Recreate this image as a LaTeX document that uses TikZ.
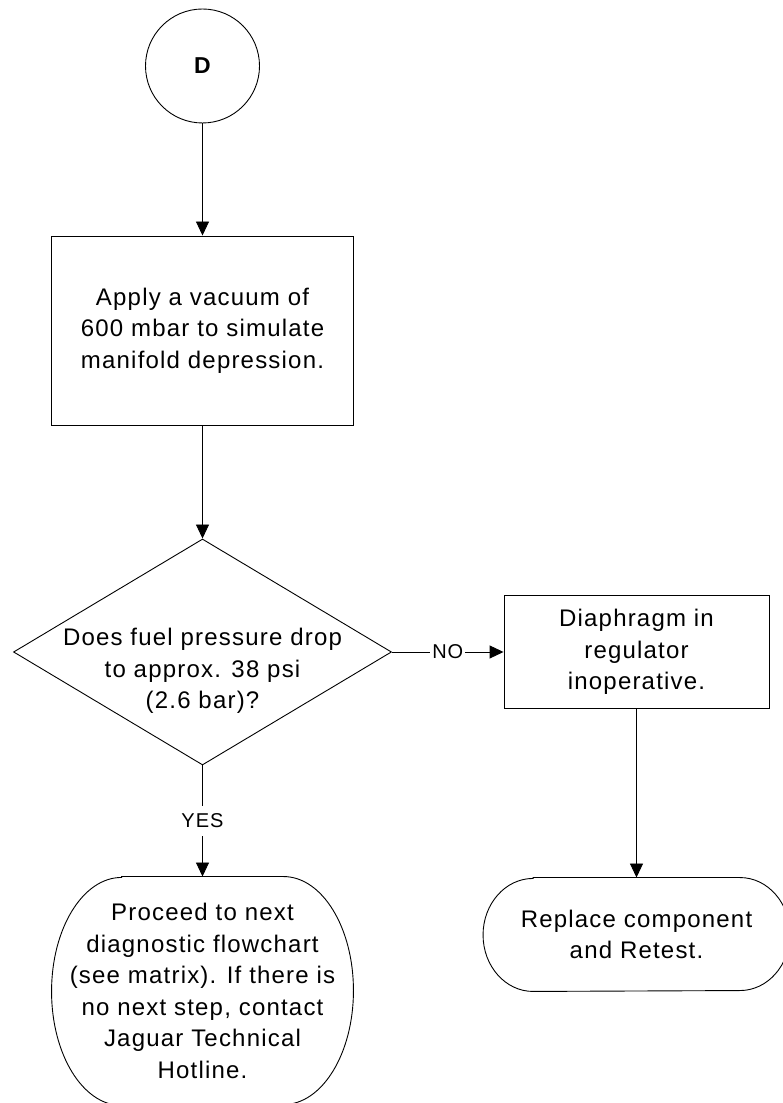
\documentclass[tikz,border=0pt]{standalone}
\usepackage{fontspec}
\setmainfont{Liberation Sans}[LetterSpace=5]
\usetikzlibrary{arrows.meta,shapes.geometric}

\begin{document}
\begin{tikzpicture}[x=1pt,y=1pt,line width=0.9pt,
    flow/.style={-{Triangle[length=14pt,width=13pt]}},
    txt/.style={align=center,font=\fontsize{24}{31.5}\selectfont,inner sep=0pt},
    lbl/.style={font=\fontsize{20}{24}\selectfont,fill=white,inner xsep=2pt,inner ysep=8pt}]
    \useasboundingbox (0,0) rectangle (783,1103);

    \node[draw,circle,minimum size=114pt,inner sep=0pt,font=\fontsize{23}{26}\selectfont\bfseries] (start) at (202.5,1037) {D};
    \node[draw,txt,minimum width=302pt,minimum height=189pt] (vac) at (202.5,772.5) {Apply a vacuum of\\600 mbar to simulate\\manifold depression.};

    \node[draw,diamond,minimum width=378pt,minimum height=226pt,inner sep=0pt] (ask) at (202.5,451) {};
    \node[txt] (asktxt) at (202.5,432) {Does fuel pressure drop\\to approx. 38 psi\\(2.6 bar)?};

    \node[draw,txt,minimum width=265pt,minimum height=113pt] (fix) at (636.5,451) {Diaphragm in\\regulator\\inoperative.};

    \node[txt,minimum width=301pt,minimum height=228pt] (next) at (202.5,112) {Proceed to next\\diagnostic flowchart\\(see matrix). If there is\\no next step, contact\\Jaguar Technical\\Hotline.};
    \draw ([xshift=70pt]next.north west) -- ([xshift=-70pt]next.north east) arc[start angle=90,end angle=-90,x radius=70,y radius=114] -- ([xshift=70pt]next.south west) arc[start angle=270,end angle=90,x radius=70,y radius=114] -- cycle;

    \node[txt,minimum width=306pt,minimum height=113pt] (swap) at (636.5,168.5) {Replace component\\and Retest.};
    \draw ([xshift=50pt]swap.north west) -- ([xshift=-50pt]swap.north east) arc[start angle=90,end angle=-90,x radius=50,y radius=56.5] -- ([xshift=50pt]swap.south west) arc[start angle=270,end angle=90,x radius=50,y radius=56.5] -- cycle;

    \draw[flow] (start) -- (vac);
    \draw[flow] (vac) -- (ask);
    \draw[flow] (ask) -- node[lbl] {NO} (fix);
    \draw[flow] (ask) -- node[lbl] {YES} (next);
    \draw[flow] (fix) -- (swap);
\end{tikzpicture}
\end{document}
